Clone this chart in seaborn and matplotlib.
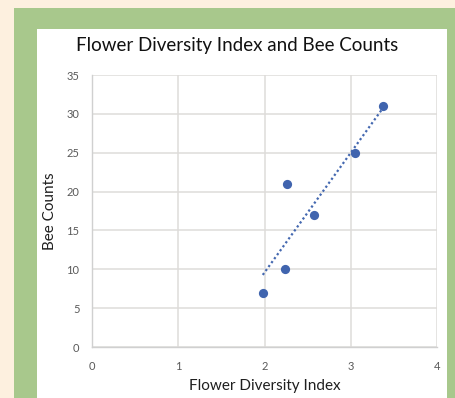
import pandas as pd
import matplotlib.pyplot as plt
import seaborn as sns
from matplotlib.patches import Rectangle

# data
diversity_index = [1.98, 2.24, 2.26, 2.57, 3.05, 3.37]
bee_counts = [7, 10, 21, 17, 25, 31]
x_ticks = [0, 1, 2, 3, 4]
y_ticks = [0, 5, 10, 15, 20, 25, 30, 35]

df = pd.DataFrame({"Flower Diversity Index": diversity_index, "Bee Counts": bee_counts})

sns.set_theme(style="white")
plt.rcParams["font.family"] = ["Lato", "DejaVu Sans"]

W, H = 455, 398
fig = plt.figure(figsize=(W / 100, H / 100), dpi=100)
fig.patch.set_facecolor("#FDF0DF")
# green frame and white chart area (behind the axes)
fig.patches.append(Rectangle((14 / W, 0), 1, (H - 8) / H, transform=fig.transFigure,
                             facecolor="#A8C88C", edgecolor="none", zorder=-3))
fig.patches.append(Rectangle((37 / W, 0), (447 - 37) / W, (H - 29) / H, transform=fig.transFigure,
                             facecolor="white", edgecolor="none", zorder=-2))

ax = fig.add_axes([92 / W, 51 / H, 345 / W, 272 / H])
ax.set_facecolor("none")
ax.set_zorder(1)

sns.regplot(data=df, x="Flower Diversity Index", y="Bee Counts", ax=ax, ci=None,
            scatter=False, truncate=True,
            line_kws=dict(color="#4468B0", linestyle=(0, (1, 1.2)), linewidth=1.6))
sns.scatterplot(data=df, x="Flower Diversity Index", y="Bee Counts", ax=ax,
                color="#4064AE", s=44, linewidth=0, zorder=3)

ax.set_xlim(0, 4)
ax.set_ylim(0, 35)
ax.set_xticks(x_ticks)
ax.set_yticks(y_ticks)
ax.grid(True, color="#DEDCDA", linewidth=1.1)
ax.set_axisbelow(True)
for s in ["top", "right"]:
    ax.spines[s].set_visible(False)
for s in ["left", "bottom"]:
    ax.spines[s].set_color("#D0D0D0")
    ax.spines[s].set_linewidth(1)
ax.tick_params(axis="both", length=0, labelsize=8, labelcolor="#595959")
ax.tick_params(axis="x", pad=10)
ax.tick_params(axis="y", pad=9)

ax.set_xlabel("Flower Diversity Index", fontsize=11, color="#1f1f1f", labelpad=5)
ax.set_ylabel("Bee Counts", fontsize=11, color="#1f1f1f", labelpad=7)
fig.text(237 / W, 1 - 45 / H, "Flower Diversity Index and Bee Counts",
         ha="center", va="center", fontsize=13.5, color="#111111")

fig.savefig("out.png", dpi=100)
